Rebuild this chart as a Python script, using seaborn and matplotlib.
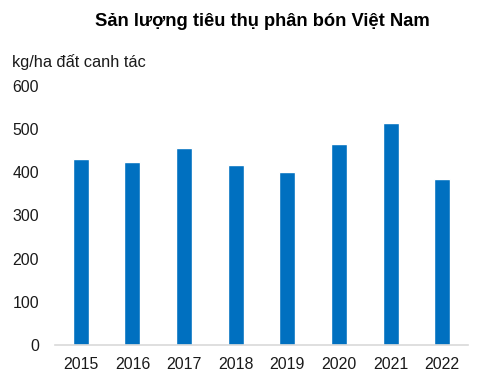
import matplotlib
matplotlib.use("Agg")
import matplotlib.pyplot as plt
import seaborn as sns
import pandas as pd

years = ["2015", "2016", "2017", "2018", "2019", "2020", "2021", "2022"]
values = [430, 424, 457, 416, 401, 466, 514, 385]

df = pd.DataFrame({"year": years, "value": values})

sns.set_theme(style="white")
plt.rcParams["font.family"] = ["Liberation Sans", "DejaVu Sans"]

fig = plt.figure(figsize=(4.89, 3.9), dpi=100)
ax = fig.add_axes([0.1125, 0.1154, 0.8445, 0.6641])

sns.barplot(data=df, x="year", y="value", color="#0070C0", saturation=1,
            width=0.31, ax=ax)

ax.set_xlim(-0.5, 7.5)
ax.set_ylim(0, 600)
ax.set_yticks(range(0, 601, 100))
ax.set_xlabel("")
ax.set_ylabel("")
for s in ["top", "right", "left"]:
    ax.spines[s].set_visible(False)
ax.spines["bottom"].set_color("#d9d9d9")
ax.spines["bottom"].set_linewidth(1.2)
ax.tick_params(axis="y", length=0, pad=11.5, labelsize=11.4, colors="#1a1a1a")
ax.tick_params(axis="x", length=0, pad=8.5, labelsize=11.4, colors="#1a1a1a")

fig.text(262 / 489, 1 - 21 / 390, "Sản lượng tiêu thụ phân bón Việt Nam",
         ha="center", va="center", fontsize=13.2, fontweight="bold", color="black")
fig.text(12 / 489, 1 - 62 / 390, "kg/ha đất canh tác",
         ha="left", va="center", fontsize=11.8, color="#1a1a1a")

fig.savefig("out.png", dpi=100)
